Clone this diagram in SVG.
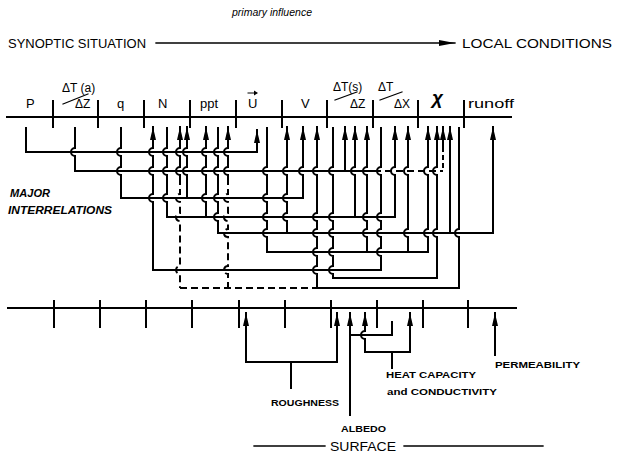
<svg xmlns="http://www.w3.org/2000/svg" width="620" height="454" viewBox="0 0 620 454">
<defs>
<style>
.s{fill:none;stroke:#000;stroke-width:2;stroke-linecap:square}
.d{fill:none;stroke:#000;stroke-width:2;stroke-dasharray:7 4}
.a{marker-start:url(#ah)}
.b{marker-start:url(#ah);marker-end:url(#ah)}
.t{font-family:"Liberation Sans",Arial,sans-serif;fill:#000}
.h{font-size:13.5px}
.l{font-size:13px}
.g{font-size:12px}
.m{font-size:10px;font-weight:bold;font-style:italic}
.k{font-size:9.5px;font-weight:bold}
</style>
<marker id="ah" viewBox="0 0 13 6" refX="13" refY="3" markerWidth="13" markerHeight="6" markerUnits="userSpaceOnUse" orient="auto-start-reverse"><path d="M0,0 L13,3 L0,6 z" fill="#000"/></marker>
<marker id="hh" viewBox="0 0 16 6" refX="16" refY="3" markerWidth="16" markerHeight="6" markerUnits="userSpaceOnUse" orient="auto"><path d="M0,0 L16,3 L0,6 z" fill="#000"/></marker>
</defs>
<rect width="620" height="454" fill="#fff"/>

<g id="header">
<text class="t" x="232" y="16" font-size="11.5" font-style="italic" textLength="80" lengthAdjust="spacingAndGlyphs">primary influence</text>
<text class="t h" x="8" y="48" textLength="138" lengthAdjust="spacingAndGlyphs">SYNOPTIC SITUATION</text>
<text class="t h" x="462" y="48" textLength="150" lengthAdjust="spacingAndGlyphs">LOCAL CONDITIONS</text>
<path class="s" d="M156,43 H455" style="stroke-width:1.3;marker-end:url(#hh)"/>
</g>

<g id="top-axis">
<path class="s" d="M7,117 H511"/>
<path class="s" d="M53,101 V127 M98,101 V127 M144,101 V127 M190,101 V127 M236,101 V127 M282,101 V127 M327,101 V127 M373,101 V127 M418,101 V127 M464,101 V127"/>
</g>

<g id="var-P"><text class="t l" x="26" y="108">P</text></g>
<g id="var-dTdZa">
<text class="t g" x="62" y="92">ΔT (a)</text>
<text class="t g" x="75" y="108">ΔZ</text>
<path class="s" d="M63,104 L88,94" style="stroke-width:1.2"/>
</g>
<g id="var-q"><text class="t l" x="117" y="108">q</text></g>
<g id="var-N"><text class="t l" x="158" y="108">N</text></g>
<g id="var-ppt"><text class="t l" x="200" y="108">ppt</text></g>
<g id="var-U"><text class="t l" x="248" y="108">U</text>
<path class="s" d="M248,93 H256" style="stroke-width:1"/><path d="M254,90.5 L258,93 L254,95.5 z" fill="#000"/></g>
<g id="var-V"><text class="t l" x="301" y="108">V</text></g>
<g id="var-dTdZs">
<text class="t g" x="333" y="91">ΔT(s)</text>
<text class="t g" x="350" y="108">ΔZ</text>
<path class="s" d="M335,100 L357,92" style="stroke-width:1.2"/>
</g>
<g id="var-dTdX">
<text class="t g" x="378" y="91">ΔT</text>
<text class="t g" x="394" y="108">ΔX</text>
<path class="s" d="M380,100 L402,92" style="stroke-width:1.2"/>
</g>
<g id="var-chi"><text class="t" x="432" y="104" font-size="19" font-weight="bold" font-style="italic" font-family="Liberation Serif, serif">χ</text></g>
<g id="var-runoff"><text class="t l" x="468" y="108" textLength="46" lengthAdjust="spacingAndGlyphs">runoff</text></g>

<g id="label-major">
<text class="t m" x="10" y="197" textLength="40" lengthAdjust="spacingAndGlyphs">MAJOR</text>
<text class="t m" x="8" y="214" textLength="104" lengthAdjust="spacingAndGlyphs">INTERRELATIONS</text>
</g>

<g id="connectors">
<!-- horizontals -->
<path class="s" d="M26,152 H257"/>
<path class="s" d="M75,171 H374"/>
<path class="d" d="M374,171 H443"/>
<path class="s" d="M121,198 H303"/>
<path class="s" d="M167,217 H395"/>
<path class="s" d="M218,233 H493"/>
<path class="s" d="M267,252 H428"/>
<path class="s" d="M153,270 H381"/>
<path class="s" d="M333,278 H437"/>
<path class="d" d="M180,288 H317"/>
<path class="s" d="M317,288 H459"/>
<!-- source verticals -->
<path class="s" d="M26,128 V152"/>
<path class="s" d="M75,128 V148 A4,4 0 0 0 75,156 V171"/>
<path class="s" d="M121,128 V148 A4,4 0 0 0 121,156 V167 A4,4 0 0 0 121,175 V198"/>
<path class="s" d="M167,128 V148 A4,4 0 0 0 167,156 V167 A4,4 0 0 0 167,175 V194 A4,4 0 0 0 167,202 V217"/>
<path class="s" d="M218,128 V148 A4,4 0 0 0 218,156 V167 A4,4 0 0 0 218,175 V194 A4,4 0 0 0 218,202 V213 A4,4 0 0 0 218,221 V233"/>
<path class="s" d="M267,128 V167 A4,4 0 0 0 267,175 V194 A4,4 0 0 0 267,202 V213 A4,4 0 0 0 267,221 V229 A4,4 0 0 0 267,237 V252"/>
<path class="s" d="M333,128 V167 A4,4 0 0 0 333,175 V213 A4,4 0 0 0 333,221 V229 A4,4 0 0 0 333,237 V248 A4,4 0 0 0 333,256 V266 A4,4 0 0 0 333,274 V278"/>
<path class="s" d="M381,128 V167 A4,4 0 0 0 381,175 V213 A4,4 0 0 0 381,221 V229 A4,4 0 0 0 381,237 V248 A4,4 0 0 0 381,256 V270"/>
<path class="s" d="M459,128 V229 A4,4 0 0 0 459,237 V288"/>
<!-- target verticals with arrows -->
<path class="s a" d="M153,127 V148 A4,4 0 0 0 153,156 V167 A4,4 0 0 0 153,175 V194 A4,4 0 0 0 153,202 V270"/>
<path class="s a" d="M180,127 V148 A4,4 0 0 0 180,156 V167 A4,4 0 0 0 180,175 V178"/>
<path class="d" d="M180,178 V194 A4,4 0 0 0 180,202 V213 A4,4 0 0 0 180,221 V266 A4,4 0 0 0 180,274 V288"/>
<path class="s a" d="M187,127 V148 A4,4 0 0 0 187,156 V167 A4,4 0 0 0 187,175 V198"/>
<path class="s a" d="M206,127 V148 A4,4 0 0 0 206,156 V167 A4,4 0 0 0 206,175 V194 A4,4 0 0 0 206,202 V217"/>
<path class="s a" d="M228,127 V148 A4,4 0 0 0 228,156 V167 A4,4 0 0 0 228,175 V178"/>
<path class="d" d="M228,178 V194 A4,4 0 0 0 228,202 V213 A4,4 0 0 0 228,221 V229 A4,4 0 0 0 228,237 V266 A4,4 0 0 0 228,274 V288"/>
<path class="s a" d="M257,130 V152"/>
<path class="s a" d="M287,127 V167 A4,4 0 0 0 287,175 V194 A4,4 0 0 0 287,202 V213 A4,4 0 0 0 287,221 V233"/>
<path class="s a" d="M303,127 V167 A4,4 0 0 0 303,175 V198"/>
<path class="s a" d="M317,127 V167 A4,4 0 0 0 317,175 V213 A4,4 0 0 0 317,221 V229 A4,4 0 0 0 317,237 V248 A4,4 0 0 0 317,256 V266 A4,4 0 0 0 317,274 V288"/>
<path class="s a" d="M345,127 V171"/>
<path class="s a" d="M355,127 V167 A4,4 0 0 0 355,175 V217"/>
<path class="s a" d="M367,127 V167 A4,4 0 0 0 367,175 V213 A4,4 0 0 0 367,221 V229 A4,4 0 0 0 367,237 V252"/>
<path class="s a" d="M395,127 V167 A4,4 0 0 0 395,175 V217"/>
<path class="s a" d="M408,127 V167 A4,4 0 0 0 408,175 V229 A4,4 0 0 0 408,237 V252"/>
<path class="s a" d="M428,127 V167 A4,4 0 0 0 428,175 V229 A4,4 0 0 0 428,237 V252"/>
<path class="s a" d="M437,127 V167 A4,4 0 0 0 437,175 V229 A4,4 0 0 0 437,237 V278"/>
<path class="s a" d="M443,127 V147"/>
<path class="d" d="M443,147 V171" style="stroke-dasharray:5 3"/>
<path class="s a" d="M450,127 V233"/>
<path class="s a" d="M493,127 V233"/>
</g>

<g id="bottom-axis">
<path class="s" d="M8,308 H516"/>
<path class="s" d="M54,301 V327 M100,301 V327 M146,301 V327 M192,301 V327 M239,301 V327 M285,301 V327 M331,301 V327 M377,301 V327 M423,301 V327 M468,301 V327"/>
</g>

<g id="roughness">
<path class="s b" d="M246,313 V362 H337 V313"/>
<path class="s" d="M291,362 V388"/>
<text class="t k" x="271" y="406" textLength="68" lengthAdjust="spacingAndGlyphs">ROUGHNESS</text>
</g>
<g id="albedo">
<path class="s a" d="M350,313 V415"/>
<path class="s" d="M350,335 H392 V322"/>
<text class="t k" x="341" y="432" textLength="45" lengthAdjust="spacingAndGlyphs">ALBEDO</text>
</g>
<g id="heat-capacity">
<path class="s b" d="M365,313 V331 A4,4 0 0 0 365,339 V352 H410 V313"/>
<path class="s" d="M392,352 V368"/>
<text class="t k" x="386" y="378" textLength="90" lengthAdjust="spacingAndGlyphs">HEAT CAPACITY</text>
<text class="t k" x="387" y="395" textLength="110" lengthAdjust="spacingAndGlyphs">and CONDUCTIVITY</text>
</g>
<g id="permeability">
<path class="s a" d="M495,313 V355"/>
<text class="t k" x="495" y="368" textLength="85" lengthAdjust="spacingAndGlyphs">PERMEABILITY</text>
</g>
<g id="surface">
<path class="s" d="M254,446 H325 M404,446 H543" style="stroke-width:1.3"/>
<text class="t" x="330" y="451" font-size="13" textLength="66" lengthAdjust="spacingAndGlyphs">SURFACE</text>
</g>
</svg>
